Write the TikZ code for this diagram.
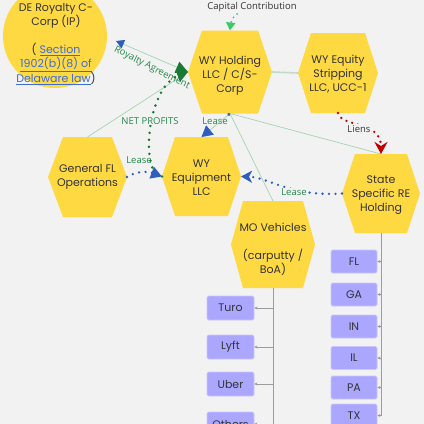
\documentclass[tikz,border=0pt]{standalone}
\usepackage{fontspec}
\setmainfont{Poppins}
\newfontfamily\lblfont{Open Sans}
\usetikzlibrary{arrows.meta}
\definecolor{bgc}{HTML}{F2F2F2}
\definecolor{hexyellow}{HTML}{FFD942}
\definecolor{boxpurple}{HTML}{ABA7FF}
\definecolor{boxedge}{HTML}{C8C5FF}
\definecolor{txtdark}{HTML}{333333}
\definecolor{lblgreen}{HTML}{23884A}
\definecolor{linegreen}{HTML}{A3D4AE}
\definecolor{linegray}{HTML}{C2DAC8}
\definecolor{dkgreen}{HTML}{1A7A33}
\definecolor{ltgreen}{HTML}{3CC96A}
\definecolor{arrblue}{HTML}{2F5DBE}
\definecolor{arrred}{HTML}{C00000}
\definecolor{treegray}{HTML}{9C9C9C}
\definecolor{linkblue}{HTML}{3A6BD6}
\newcommand{\lnk}[1]{\textcolor{linkblue}{\underline{#1}}}
\newcommand{\hexnode}[8]{%
  \fill[hexfill] ({#2-#4/2},{#3}) -- ({#2-#4/2+#6},{#3-#5/2}) -- ({#2+#4/2-#6},{#3-#5/2}) -- ({#2+#4/2},{#3}) -- ({#2+#4/2-#6},{#3+#5/2}) -- ({#2-#4/2+#6},{#3+#5/2}) -- cycle;
  \node[hexshape, minimum width=#4, minimum height=#5] (#1) at (#2,#3) {};
  \node[hextext] (#1t) at (#2,{#3+#7}) {#8};
}
\tikzset{
  hexfill/.style={fill=hexyellow},
  hexshape/.style={rectangle, inner sep=0pt, outer sep=0pt},
  hextext/.style={align=center, text=txtdark, font=\fontsize{11}{14}\selectfont, inner sep=0pt},
  pbox/.style={rectangle, fill=boxpurple, draw=boxedge, line width=0.8pt, rounded corners=1.5pt, minimum width=47, minimum height=24, inner sep=0pt, text=txtdark, font=\fontsize{11}{13}\selectfont},
  lbl/.style={text=lblgreen, font=\lblfont\fontsize{9.5}{11}\selectfont, inner sep=1pt},
  lblbg/.style={lbl, fill=bgc},
  thingreen/.style={draw=linegreen, line width=0.7pt},
  thickgray/.style={draw=linegray, line width=1.6pt},
  dotblue/.style={draw=arrblue, line width=2.6pt, dash pattern=on 0pt off 6.5pt, line cap=round},
  dotgreen/.style={draw=dkgreen, line width=2.8pt, dash pattern=on 0pt off 7pt, line cap=round},
  dotred/.style={draw=arrred, line width=2.6pt, dash pattern=on 0pt off 6pt, line cap=round},
  dotlight/.style={draw=ltgreen, line width=2pt, dash pattern=on 0pt off 5pt, line cap=round},
  treeline/.style={draw=treegray, line width=1pt, -{Stealth[length=3pt,width=3pt]}},
}
\begin{document}
\begin{tikzpicture}[x=1pt,y=-1pt]
\useasboundingbox (0,0) rectangle (424,424);
\clip (0,0) rectangle (424,424);
\fill[bgc] (0,0) rectangle (424,424);

% circle
\node[circle, fill=hexyellow, minimum size=104pt, inner sep=0pt] (DE) at (55,36) {};
\node[hextext] (DEt) at (56,44) {DE Royalty C-\\Corp (IP)\\\mbox{}\\( \lnk{Section}\\\lnk{1902(b)(8) of}\\\lnk{Delaware law})};

% hexagons
\hexnode{WYH}{230}{72}{84}{83}{14}{4}{WY Holding\\LLC / C/S-\\Corp}
\hexnode{WYES}{338}{73}{80}{80}{13}{1}{WY Equity\\Stripping\\LLC, UCC-1}
\hexnode{GFL}{87.5}{177}{79}{80}{15}{0}{General FL\\Operations}
\hexnode{WYE}{201.5}{176.5}{79}{79}{13}{1}{WY\\Equipment\\LLC}
\hexnode{STATE}{381}{193.5}{78}{79}{13}{1.5}{State\\Specific RE\\Holding}
\hexnode{MO}{273}{244.5}{84}{87}{12}{5}{MO Vehicles\\\mbox{}\\(carputty /\\BoA)}

% purple boxes
\node[pbox] (mTuro) at (230.5,308) {Turo};
\node[pbox] (mLyft) at (230.5,347) {Lyft};
\node[pbox] (mUber) at (230.5,384) {Uber};
\node[pbox] (mOthers) at (230.5,424) {Others};
\node[pbox, minimum width=46, minimum height=23] (sFL) at (354,261.5) {FL};
\node[pbox, minimum width=46, minimum height=23] (sGA) at (354,294.5) {GA};
\node[pbox, minimum width=46, minimum height=23] (sIN) at (354,326.5) {IN};
\node[pbox, minimum width=46, minimum height=23] (sIL) at (354,358) {IL};
\node[pbox, minimum width=46, minimum height=23] (sPA) at (354,387.5) {PA};
\node[pbox, minimum width=46, minimum height=23] (sTX) at (354,415.5) {TX};

% tree connectors
\foreach \b in {mTuro,mLyft,mUber,mOthers} \draw[treeline] (MO.south) |- (\b.east);
\foreach \b in {sFL,sGA,sIN,sIL,sPA,sTX} \draw[treeline] (STATE.south) |- (\b.east);

% thin lines
\draw[thingreen] (GFL.north) -- (WYH.west);
\draw[thickgray] (WYH.east) -- (WYES.west);
\draw[thingreen] (WYH.south) -- (MO.north);
\draw[thingreen] (WYH.south) -- (STATE.north);

% royalty agreement
\coordinate (royEnd) at (116,41);
\draw[thingreen, {Triangle[color=arrblue,length=8pt,width=9pt]}-{Triangle[color=dkgreen,length=12pt,width=12pt]}] (royEnd) -- (WYH.west);
\node[lbl, rotate=-27] (royLbl) at (152,68) {Royalty Agreement};

% net profits
\draw[dotgreen, -{Triangle[length=11pt,width=12pt]}] (WYE.west) .. controls (140,176) and (146,88) .. (WYH.west);
\node[lblbg] (npLbl) at (150,121) {NET PROFITS};

% lease WYH -> WYE
\draw[thingreen, {Circle[color=arrblue,length=3pt]}-{Triangle[color=arrblue,length=11pt,width=12pt]}] (WYH.south) -- (WYE.north);
\node[lbl] (lease1) at (215,121) {Lease};

% lease GFL -> WYE
\draw[dotblue, -{Triangle[length=11pt,width=12pt]}] (GFL.east) .. controls (138,170) and (150,172) .. (WYE.west);
\node[lbl] (lease2) at (139,160) {Lease};

% lease STATE -> WYE
\draw[dotblue, -{Stealth[length=11pt,width=12pt,inset=3pt]}] (STATE.west) .. controls (290,197) and (268,177) .. (WYE.east);
\node[lblbg] (lease3) at (294,192) {Lease};

% liens
\draw[dotred, -{Stealth[length=12pt,width=13pt,inset=4pt]}] (WYES.south) .. controls (342,128) and (381,120) .. (STATE.north);
\node[lblbg, text=txtdark] (liensLbl) at (359,129) {Liens};

% capital contribution
\coordinate (capStart) at (270,-8);
\draw[dotlight, -{Triangle[length=8pt,width=9pt]}] (capStart) .. controls (262,6) and (232,10) .. (WYH.north);
\node[lblbg, text=txtdark] (capLbl) at (252,7) {Capital Contribution};
\end{tikzpicture}
\end{document}
